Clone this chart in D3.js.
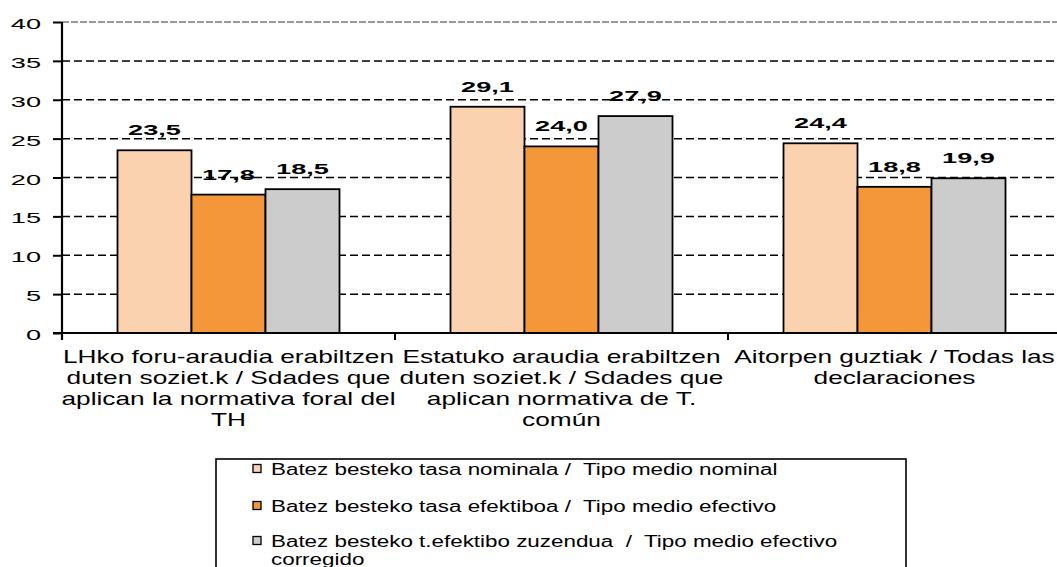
<!DOCTYPE html>
<html>
<head>
<meta charset="utf-8">
<script src="https://cdn.jsdelivr.net/npm/d3@7"></script>
<style>
  html, body { margin: 0; padding: 0; background: #fff; }
  svg { display: block; font-family: "Liberation Sans", Arial, sans-serif; }
  .legtext { white-space: pre; }
</style>
</head>
<body>
<svg id="chart" width="1057" height="567"></svg>
<script>
// ---- data ----
const categories = [
  ["LHko foru-araudia erabiltzen", "duten soziet.k / Sdades que", "aplican la normativa foral del", "TH"],
  ["Estatuko araudia erabiltzen", "duten soziet.k / Sdades que", "aplican normativa de T.", "común"],
  ["Aitorpen guztiak / Todas las", "declaraciones"]
];
const categoryKeys = ["foral", "estatal", "todas"];
const seriesNames = [
  ["Batez besteko tasa nominala /  Tipo medio nominal"],
  ["Batez besteko tasa efektiboa /  Tipo medio efectivo"],
  ["Batez besteko t.efektibo zuzendua  /  Tipo medio efectivo", "corregido"]
];
const seriesKeys = ["nominal", "efectivo", "corregido"];
const nominal   = [23.5, 29.1, 24.4];
const efectivo  = [17.8, 24.0, 18.8];
const corregido = [18.5, 27.9, 19.9];
const yTicks = [0, 5, 10, 15, 20, 25, 30, 35, 40];
const colors = ["#FAD2AF", "#F4963A", "#CCCCCC"];

const values = [nominal, efectivo, corregido];
const SX_NUM = 1.75; // horizontal stretch of numbers
const SX_TXT = 1.5;  // horizontal stretch of axis words
const SX_LEG = 1.4;  // horizontal stretch of legend words

const svg = d3.select("#chart");
const pLeft = 62, pRight = 1061, pTop = 22, pBottom = 333;

const x0 = d3.scaleBand().domain(categoryKeys).range([pLeft, pRight]).padding(0);
const x1 = d3.scaleBand().domain(seriesKeys).range([x0.bandwidth() / 6, x0.bandwidth() * 5 / 6]).padding(0);
const y = d3.scaleLinear().domain([0, 40]).range([pBottom, pTop]);

// gridlines
svg.append("g").selectAll("line").data(yTicks.filter(d => d > 0)).join("line")
  .attr("x1", pLeft).attr("x2", 1057)
  .attr("y1", d => y(d)).attr("y2", d => y(d))
  .attr("stroke", d => d === 40 ? "#9a9a9a" : "#000")
  .attr("stroke-width", d => d === 40 ? 1.8 : 1.5)
  .attr("stroke-dasharray", d => d === 40 ? "7,2" : "8,4");

// bars
const groups = svg.append("g").selectAll("g").data(categoryKeys).join("g")
  .attr("transform", d => `translate(${x0(d)},0)`);
groups.selectAll("rect").data((d, i) => seriesKeys.map((k, j) => ({k, j, v: values[j][i]}))).join("rect")
  .attr("x", d => x1(d.k)).attr("width", x1.bandwidth())
  .attr("y", d => y(d.v)).attr("height", d => y(0) - y(d.v))
  .attr("fill", d => colors[d.j]).attr("stroke", "#000").attr("stroke-width", 1.8);

// data labels
groups.selectAll("text.val").data((d, i) => seriesKeys.map((k, j) => ({k, j, v: values[j][i]}))).join("text")
  .attr("class", "val")
  .attr("transform", d => `translate(${x1(d.k) + x1.bandwidth() / 2},${y(d.v) - 15}) scale(${SX_NUM},1)`)
  .attr("text-anchor", "middle")
  .attr("font-size", 15.5).attr("font-weight", "bold").attr("fill", "#000")
  .text(d => d3.format(".1f")(d.v).replace(".", ","));

// y axis
const yAxis = svg.append("g").attr("transform", `translate(${pLeft},0)`)
  .call(d3.axisLeft(y).tickValues(yTicks).tickSize(9).tickPadding(12).tickSizeOuter(0));
yAxis.select(".domain").attr("stroke", "#000").attr("stroke-width", 2.2).attr("d", `M0,${pTop}V${pBottom + 7}`);
yAxis.selectAll(".tick line").attr("stroke", "#000").attr("stroke-width", 2);
yAxis.selectAll(".tick text")
  .attr("x", null).attr("dy", null)
  .attr("transform", `translate(-21,6.5) scale(${SX_NUM},1)`)
  .attr("font-size", 15.5).attr("font-family", "Liberation Sans, Arial, sans-serif").attr("fill", "#000");

// x axis
const xAxis = svg.append("g").attr("transform", `translate(0,${pBottom})`);
xAxis.append("line").attr("x1", 53).attr("x2", 1057).attr("y1", 0).attr("y2", 0)
  .attr("stroke", "#000").attr("stroke-width", 2);
xAxis.selectAll("line.tk").data(categoryKeys.slice(1)).join("line").attr("class", "tk")
  .attr("x1", d => x0(d)).attr("x2", d => x0(d)).attr("y1", 0).attr("y2", 7)
  .attr("stroke", "#000").attr("stroke-width", 2);
const xl = xAxis.selectAll("g.lbl").data(categoryKeys).join("g").attr("class", "lbl")
  .attr("transform", d => `translate(${x0(d) + x0.bandwidth() / 2},0)`);
xl.each(function(d, i) {
  d3.select(this).selectAll("text").data(categories[i]).join("text")
    .attr("transform", (t, k) => `translate(0,${30 + k * 21}) scale(${SX_TXT},1)`)
    .attr("text-anchor", "middle").attr("font-size", 17.5).attr("fill", "#000")
    .text(t => t);
});

// legend
const lg = svg.append("g");
lg.append("rect").attr("x", 216).attr("y", 459).attr("width", 690).attr("height", 140)
  .attr("fill", "none").attr("stroke", "#000").attr("stroke-width", 1.6);
const rowY = [475, 512, 547];
const items = lg.selectAll("g.item").data(seriesKeys).join("g").attr("class", "item");
items.append("rect")
  .attr("x", 253).attr("y", (d, i) => rowY[i] - 10.5).attr("width", 8).attr("height", 8)
  .attr("fill", (d, i) => colors[i]).attr("stroke", "#000").attr("stroke-width", 1.3);
items.each(function(d, i) {
  d3.select(this).selectAll("text").data(seriesNames[i]).join("text")
    .attr("class", "legtext")
    .attr("transform", (t, k) => `translate(271,${rowY[i] + k * 18}) scale(${SX_LEG},1)`)
    .attr("font-size", 16).attr("fill", "#000").text(t => t);
});
</script>
</body>
</html>
